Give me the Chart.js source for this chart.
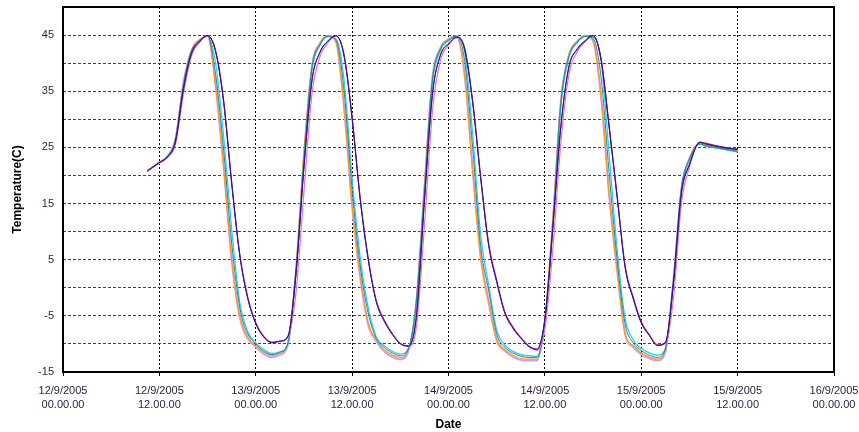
<!DOCTYPE html>
<html>
<head>
<meta charset="utf-8">
<script src="https://cdn.jsdelivr.net/npm/chart.js@4.4.1/dist/chart.umd.min.js"></script>
<style>
  body { margin: 0; background: #fff; }
  canvas { display: block; }
</style>
</head>
<body>
<canvas id="mycanvas" width="859" height="432"></canvas>
<script>
// hours since 12/9/2005 00.00.00
var hours = [10.5, 11, 12, 13, 14, 15, 16, 17, 18, 19,
  20, 21, 22, 23, 24, 25, 26, 27, 28, 29,
  30, 31, 32, 33, 34, 35, 36, 37, 38, 39,
  40, 41, 42, 43, 44, 45, 46, 47, 48, 49,
  50, 51, 52, 53, 54, 55, 56, 57, 58, 59,
  60, 61, 62, 63, 64, 65, 66, 67, 68, 69,
  70, 71, 72, 73, 74, 75, 76, 77, 78,
  79.3, 80, 82, 84];

var navy = [20.8, 21.3, 22.3, 23.3, 26.0, 35.5, 41.8, 43.9, 44.9, 42.0,
  33.0, 18.5, 5.8, -1.9, -6.4, -8.8, -9.8, -9.5, -8.7, 2.5,
  21.5, 37.0, 42.0, 44.0, 44.9, 41.2, 30.0, 15.7, 5.0, -2.5,
  -6.0, -8.3, -10.0, -10.4, -5.0, 15.5, 34.5, 41.5, 43.5, 44.6,
  42.5, 33.0, 19.5, 7.5, 1.0, -4.5, -7.2, -9.0, -10.5, -11.0,
  -5.5, 11.0, 29.0, 39.5, 42.5, 44.0, 44.9, 40.5, 28.5, 16.0,
  3.5, -2.0, -6.3, -8.5, -10.3, -9.8, 0.8, 16.9, 22.0,
  25.9, 25.6, 25.0, 24.6];

var darkRed = [20.8, 21.3, 22.3, 23.3, 26.0, 35.4, 41.7, 43.8, 44.9, 42.2,
  33.3, 18.8, 6.0, -1.8, -6.3, -8.7, -9.7, -9.5, -8.6, 2.3,
  21.3, 36.8, 41.9, 43.9, 44.9, 41.4, 30.3, 16.0, 5.2, -2.3,
  -5.8, -8.2, -9.9, -10.3, -5.2, 15.3, 34.3, 41.4, 43.4, 44.6,
  42.7, 33.3, 19.8, 7.8, 1.2, -4.3, -7.0, -8.9, -10.4, -10.9,
  -5.6, 10.8, 28.8, 39.3, 42.4, 43.9, 44.9, 40.7, 28.8, 16.3,
  3.7, -1.8, -6.1, -8.4, -10.2, -9.7, 0.6, 16.7, 21.9,
  25.9, 25.7, 25.1, 24.7];

var magenta = [20.8, 21.3, 22.3, 23.2, 25.5, 34.5, 41.3, 43.7, 44.8, 42.3,
  33.5, 19.0, 6.2, -1.5, -6.2, -8.6, -9.7, -9.6, -8.8, -1.0,
  17.0, 34.5, 41.2, 43.7, 44.8, 41.5, 30.5, 16.2, 5.4, -2.2,
  -5.7, -8.1, -9.9, -10.5, -7.0, 11.0, 31.5, 40.5, 43.2, 44.5,
  42.8, 33.5, 20.0, 8.0, 1.4, -4.2, -6.9, -8.8, -10.3, -11.1,
  -7.5, 7.0, 26.0, 38.0, 42.0, 43.8, 44.9, 40.8, 29.0, 16.5,
  3.9, -1.6, -6.0, -8.3, -10.1, -10.0, -2.0, 15.0, 21.5,
  26.0, 25.8, 25.1, 24.6];

var teal = [20.8, 21.3, 22.3, 23.4, 26.4, 36.2, 42.1, 44.0, 44.9, 38.0,
  24.5, 8.0, -3.5, -8.2, -10.0, -11.3, -11.9, -11.5, -9.9, 3.0,
  23.0, 39.2, 43.3, 44.8, 44.1, 35.0, 17.5, 4.0, -4.5, -9.0,
  -10.6, -11.6, -12.1, -10.9, -2.4, 17.2, 37.0, 42.5, 44.1, 44.8,
  40.5, 25.0, 7.5, -0.5, -8.2, -10.6, -11.6, -12.2, -12.4, -12.4,
  -5.9, 11.5, 33.0, 41.2, 43.7, 44.8, 44.4, 37.5, 20.5, 5.0,
  -6.5, -9.8, -11.2, -12.0, -12.4, -10.9, 1.2, 17.8, 22.9,
  25.6, 25.3, 24.8, 24.3];

var sky = [20.8, 21.3, 22.3, 23.4, 26.3, 36.0, 42.0, 44.0, 44.8, 40.0,
  27.0, 10.5, -2.5, -7.8, -9.8, -11.0, -11.7, -11.4, -9.9, 2.5,
  22.5, 38.8, 43.2, 44.7, 44.3, 37.0, 19.5, 5.5, -3.5, -8.7,
  -10.3, -11.3, -11.8, -10.8, -2.8, 16.5, 36.5, 42.3, 44.0, 44.8,
  42.1, 27.5, 9.5, 0.5, -7.5, -10.2, -11.3, -11.9, -12.1, -12.2,
  -6.0, 11.0, 32.5, 41.0, 43.6, 44.7, 44.6, 40.5, 23.8, 6.8,
  -5.5, -9.3, -10.8, -11.6, -12.0, -10.8, 0.8, 17.5, 22.8,
  25.6, 25.2, 24.7, 24.2];

var orange = [20.8, 21.3, 22.3, 23.4, 26.5, 36.5, 42.3, 44.1, 44.9, 36.0,
  21.5, 5.0, -5.1, -8.9, -10.3, -11.5, -12.0, -11.6, -9.8, 3.2,
  24.2, 39.5, 43.5, 44.9, 43.8, 32.0, 14.5, 2.0, -6.5, -9.3,
  -11.0, -12.0, -12.4, -11.0, -2.0, 18.0, 37.3, 42.7, 44.2, 44.8,
  38.0, 21.0, 5.5, -2.5, -9.3, -11.0, -12.0, -12.6, -12.7, -12.7,
  -5.7, 12.7, 33.5, 41.5, 43.8, 44.9, 44.0, 34.0, 16.5, 3.0,
  -8.3, -10.3, -11.6, -12.3, -12.7, -11.2, 1.4, 17.5, 23.0,
  25.7, 25.5, 24.9, 24.3];

var rose = [20.9, 21.4, 22.4, 23.5, 26.3, 36.3, 42.2, 44.0, 44.9, 35.5,
  21.0, 4.5, -5.5, -9.2, -10.6, -11.8, -12.2, -11.8, -10.0, 2.8,
  23.0, 39.2, 43.4, 44.8, 43.6, 31.5, 14.0, 1.5, -6.8, -9.6,
  -11.3, -12.2, -12.6, -11.2, -2.5, 17.5, 37.2, 42.6, 44.1, 44.7,
  37.5, 20.5, 5.0, -3.0, -9.6, -11.3, -12.2, -12.8, -12.9, -12.8,
  -6.2, 11.5, 33.0, 41.3, 43.7, 44.8, 43.8, 33.5, 16.0, 2.5,
  -8.6, -10.6, -11.8, -12.5, -12.9, -11.4, 1.0, 17.0, 22.8,
  25.8, 25.6, 25.0, 24.4];

var lavender = [20.8, 21.3, 22.2, 23.3, 26.6, 36.7, 42.4, 44.2, 44.8, 36.5,
  22.0, 5.5, -4.8, -8.8, -10.5, -11.8, -12.4, -12.0, -10.2, 3.0,
  23.8, 39.6, 43.6, 44.9, 43.9, 32.5, 15.0, 2.5, -6.2, -9.5,
  -11.4, -12.4, -12.8, -11.4, -2.2, 18.2, 37.6, 42.8, 44.3, 44.8,
  38.5, 21.5, 6.0, -2.2, -9.0, -11.2, -12.3, -12.9, -13.0, -13.0,
  -6.0, 12.2, 33.6, 41.6, 43.9, 44.9, 44.1, 34.5, 17.0, 3.5,
  -8.0, -10.6, -11.9, -12.6, -13.0, -11.5, 1.6, 17.8, 23.1,
  25.7, 25.4, 24.8, 24.2];

var xTickLabels = [
  ['12/9/2005', '00.00.00'], ['12/9/2005', '12.00.00'],
  ['13/9/2005', '00.00.00'], ['13/9/2005', '12.00.00'],
  ['14/9/2005', '00.00.00'], ['14/9/2005', '12.00.00'],
  ['15/9/2005', '00.00.00'], ['15/9/2005', '12.00.00'],
  ['16/9/2005', '00.00.00']
];
var yTickLabels = [-15, -5, 5, 15, 25, 35, 45];

function pts(arr) {
  return hours.map(function(h, i) { return {x: h, y: arr[i]}; });
}

// drawn in reverse order, so the first ones end up on top
var series = [
  {data: navy, color: '#1a1aa8', w: 1},
  {data: darkRed, color: '#8a0030', w: 1},
  {data: magenta, color: '#e070d8', w: 1.2},
  {data: teal, color: '#208a8a', w: 1},
  {data: sky, color: '#22ccf0', w: 1.2},
  {data: orange, color: '#ff9a1a', w: 1.2},
  {data: lavender, color: '#c8a0f8', w: 1.6},
  {data: rose, color: '#ffb0d8', w: 1.6}
];

var frame = {
  id: 'frame',
  afterDatasetsDraw: function(chart) {
    var a = chart.chartArea, c = chart.ctx;
    c.save();
    c.strokeStyle = '#000';
    c.lineWidth = 2;
    c.strokeRect(a.left, a.top, a.right - a.left, a.bottom - a.top);
    c.restore();
  }
};

Chart.defaults.font.family = '"Liberation Sans", Arial, sans-serif';

var ctx = document.getElementById('mycanvas');
var lineGraph = new Chart(ctx, {
  type: 'line',
  data: {
    datasets: series.map(function(s) {
      return {
        data: pts(s.data),
        borderColor: s.color,
        borderWidth: s.w,
        pointRadius: 0,
        fill: false,
        cubicInterpolationMode: 'monotone'
      };
    })
  },
  options: {
    responsive: false,
    animation: false,
    devicePixelRatio: 1,
    layout: {padding: {top: 7, right: 25, left: 0, bottom: 0}},
    plugins: {legend: {display: false}, tooltip: {enabled: false}},
    scales: {
      x: {
        type: 'linear',
        min: 0,
        max: 96,
        ticks: {
          stepSize: 12,
          autoSkip: false,
          maxRotation: 0,
          padding: 7,
          color: '#2a1a3a',
          font: {size: 11, lineHeight: 1.36},
          callback: function(v) { return xTickLabels[Math.round(v / 12)]; }
        },
        grid: {color: '#000', borderDash: [2, 2], tickLength: 4, tickColor: '#000', tickBorderDash: []},
        border: {display: false, dash: [2, 2]},
        title: {display: true, text: 'Date', color: '#000', font: {size: 12, weight: 'bold'}, padding: {top: 0, bottom: 0}},
        afterFit: function(s) { s.height = 60; s.paddingLeft = 0; s.paddingRight = 0; }
      },
      y: {
        min: -15,
        max: 50,
        ticks: {
          stepSize: 5,
          autoSkip: false,
          padding: 9,
          color: '#2a1a3a',
          font: {size: 11},
          callback: function(v) { return yTickLabels.indexOf(v) >= 0 ? String(v) : ''; }
        },
        grid: {color: '#444', borderDash: [3, 2], drawTicks: false},
        border: {display: false, dash: [3, 2]},
        title: {display: true, text: 'Temperature(C)', color: '#000', font: {size: 12, weight: 'bold'}, padding: {top: 10, bottom: 0}},
        afterFit: function(s) { s.width = 63; s.paddingTop = 0; s.paddingBottom = 0; }
      }
    }
  },
  plugins: [frame]
});
</script>
</body>
</html>
